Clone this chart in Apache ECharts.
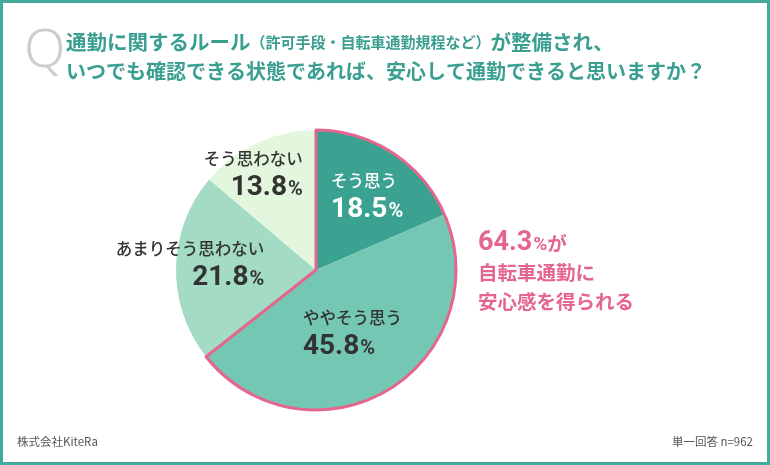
<!DOCTYPE html>
<html>
<head>
<meta charset="utf-8">
<script src="https://cdn.jsdelivr.net/npm/echarts@6/dist/echarts.min.js"></script>
<style>
html,body{margin:0;padding:0;background:#fff;}
#c{width:770px;height:465px;}
</style>
</head>
<body>
<div id="c"></div>
<script>
// Data
var categories = ['そう思う', 'ややそう思う', 'あまりそう思わない', 'そう思わない'];
var values = [18.5, 45.8, 21.8, 13.8];
var sliceColors = ['#3ba292', '#74c7b2', '#a3dbc4', '#e2f7dd'];
var labelColors = ['#ffffff', '#333333', '#333333', '#333333'];
var labelAligns = ['left', 'left', 'right', 'right'];
var labelOffsets = [[11, -12], [-1, 1], [-53, -4], [-32, -29]];
var highlightCount = 2; // そう思う + ややそう思う

var positiveShare = values.slice(0, highlightCount).reduce(function (a, b) { return a + b; }, 0);
var restShare = values.slice(highlightCount).reduce(function (a, b) { return a + b; }, 0);

var FONT = '"Noto Sans CJK JP", "Noto Sans", sans-serif';
var NUMFONT = 'Roboto, "Noto Sans CJK JP", sans-serif';
var TEAL = '#3a9f90';
var PINK = '#e4668f';

var chart = echarts.init(document.getElementById('c'), null, { renderer: 'canvas' });

var pieData = categories.map(function (name, i) {
  var al = labelAligns[i];
  var c = labelColors[i];
  return {
    name: name,
    value: values[i],
    itemStyle: { color: sliceColors[i] },
    label: {
      offset: labelOffsets[i],
      rich: {
        n: { fontFamily: FONT, fontSize: 16.5, fontWeight: 500, color: c, align: al, lineHeight: 26 },
        v: { fontFamily: NUMFONT, fontSize: 28, fontWeight: 'bold', color: c, align: al, lineHeight: 32 },
        p: { fontFamily: NUMFONT, fontSize: 20, fontWeight: 'bold', color: c, align: al, lineHeight: 32, padding: [4, 0, 0, 1] }
      }
    }
  };
});

var option = {
  backgroundColor: '#ffffff',
  animation: false,
  graphic: [
    { type: 'rect', shape: { x: 1.5, y: 1.5, width: 767, height: 462 }, style: { fill: 'none', stroke: '#44aa9b', lineWidth: 3 }, silent: true },
    { type: 'text', left: 24, top: 25, style: { text: 'Q', fontFamily: '"Noto Sans", sans-serif', fontSize: 54, fontWeight: 300, fill: '#cccccc' } },
    { type: 'text', left: 66, top: 32, style: {
        text: '{a|通勤に関するルール}{b|（許可手段・自転車通勤規程など）}{a|が整備され、}',
        rich: {
          a: { fontFamily: FONT, fontSize: 20.5, fontWeight: 'bold', fill: TEAL, lineHeight: 27 },
          b: { fontFamily: FONT, fontSize: 15, fontWeight: 'bold', fill: TEAL, lineHeight: 27 }
        }
      } },
    { type: 'text', left: 66, top: 61, style: { text: 'いつでも確認できる状態であれば、安心して通勤できると思いますか？', fontFamily: FONT, fontSize: 20, fontWeight: 'bold', fill: TEAL } },
    { type: 'text', left: 478, top: 230, style: {
        text: '{v|' + positiveShare.toFixed(1) + '}{p|%}{t|が}\n{t|自転車通勤に}\n{t|安心感を得られる}',
        rich: {
          v: { fontFamily: NUMFONT, fontSize: 27, fontWeight: 'bold', fill: PINK, lineHeight: 30 },
          p: { fontFamily: NUMFONT, fontSize: 19, fontWeight: 'bold', fill: PINK, lineHeight: 30, padding: [4, 0, 0, 1] },
          t: { fontFamily: FONT, fontSize: 19.5, fontWeight: 'bold', fill: PINK, lineHeight: 29 }
        }
      } },
    { type: 'text', left: 17, top: 436, style: { text: '株式会社KiteRa', fontFamily: FONT, fontSize: 11.5, fill: '#555555' } },
    { type: 'text', right: 17, top: 436, style: { text: '単一回答 n=962', fontFamily: FONT, fontSize: 11.5, fill: '#555555' } }
  ],
  series: [
    {
      type: 'pie',
      center: [316, 270],
      radius: [0, 140],
      startAngle: 90,
      clockwise: true,
      avoidLabelOverlap: false,
      silent: true,
      itemStyle: { borderWidth: 0 },
      label: { show: true, position: 'inside', formatter: function (p) { return '{n|' + p.name + '}\n{v|' + p.value.toFixed(1) + '}{p|%}'; } },
      labelLine: { show: false },
      emphasis: { disabled: true },
      data: pieData,
      z: 2
    },
    {
      type: 'pie',
      center: [316, 270],
      radius: [0, 140],
      startAngle: 90,
      clockwise: true,
      silent: true,
      label: { show: false },
      labelLine: { show: false },
      emphasis: { disabled: true },
      data: [
        { name: 'positive', value: positiveShare, itemStyle: { color: 'rgba(0,0,0,0)', borderColor: PINK, borderWidth: 3, borderJoin: 'round' } },
        { name: 'rest', value: restShare, itemStyle: { color: 'rgba(0,0,0,0)', borderWidth: 0 } }
      ],
      z: 3
    }
  ]
};
chart.setOption(option);
</script>
</body>
</html>
